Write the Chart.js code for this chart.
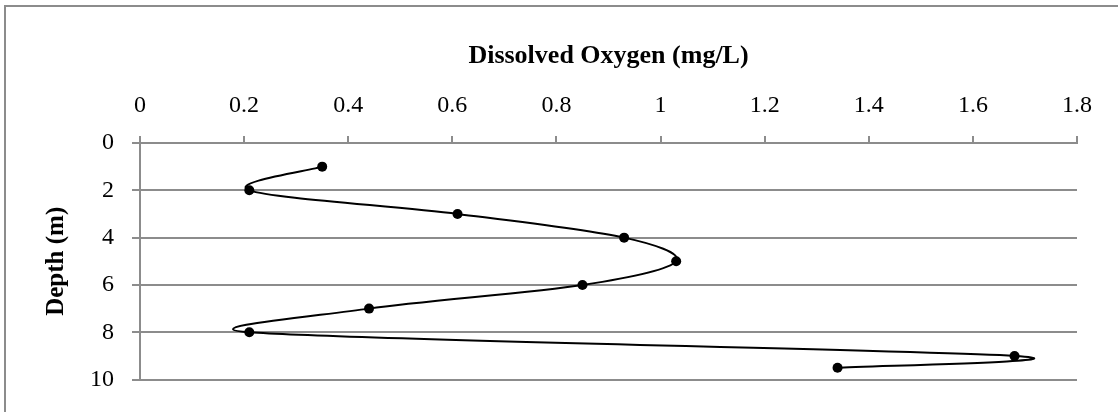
<!DOCTYPE html>
<html>
<head>
<meta charset="utf-8">
<title>Dissolved Oxygen profile</title>
<script src="https://cdn.jsdelivr.net/npm/chart.js@4/dist/chart.umd.min.js"></script>
<style>
  html, body { margin: 0; padding: 0; background: #fff; }
  #wrap { position: relative; width: 1118px; height: 412px; }
</style>
</head>
<body>
<div id="wrap"><canvas id="chart"></canvas></div>
<script>
'use strict'

// readings off the profile, depth in m, DO in mg/L
const depths = [1, 2, 3, 4, 5, 6, 7, 8, 9, 9.5]
const oxygen = [0.35, 0.21, 0.61, 0.93, 1.03, 0.85, 0.44, 0.21, 1.68, 1.34]

const xTicks = [0, 0.2, 0.4, 0.6, 0.8, 1, 1.2, 1.4, 1.6, 1.8]
const yTicks = [0, 2, 4, 6, 8, 10]

const SERIF = "'Times New Roman', 'Liberation Serif', serif"
const GRID = '#8c8c8c'


// the grey frame round the whole chart (right/bottom edges are cut off in the shot)
const framePlugin = {
  id: 'frame',
  beforeDraw (chart) {
    const ctx = chart.ctx
    ctx.save()
    ctx.fillStyle = '#fff'
    ctx.fillRect(0, 0, chart.width, chart.height)
    ctx.strokeStyle = GRID
    ctx.lineWidth = 2
    ctx.strokeRect(5, 6, chart.width + 20, chart.height + 20)
    ctx.restore()
  }
}


// spreadsheet-style smoothing: handle = |next - prev| / 6 along (next - prev),
// but never longer than half of the segment it sits on
const smoothPlugin = {
  id: 'smooth',
  beforeDatasetDraw (chart, args) {
    const line = args.meta.dataset
    if (!line || !line.updateControlPoints) return
    line.updateControlPoints(chart.chartArea, args.meta.iScale.axis)
    const pts = line.points
    const n = pts.length
    for (let i = 0; i < n; i++) {
      const p = pts[i]
      const prev = pts[i - 1] || p
      const next = pts[i + 1] || p
      const dx = next.x - prev.x
      const dy = next.y - prev.y
      const d = Math.hypot(dx, dy)
      if (!d) {
        p.cp1x = p.cp2x = p.x
        p.cp1y = p.cp2y = p.y
        continue
      }
      const ux = dx / d
      const uy = dy / d
      const segPrev = Math.hypot(p.x - prev.x, p.y - prev.y)
      const segNext = Math.hypot(next.x - p.x, next.y - p.y)
      const hIn = Math.min(d / 6, segPrev / 2)
      const hOut = Math.min(d / 6, segNext / 2)
      p.cp1x = p.x - ux * hIn
      p.cp1y = p.y - uy * hIn
      p.cp2x = p.x + ux * hOut
      p.cp2y = p.y + uy * hOut
    }
  }
}


function fixedTicks (list) {
  return function (scale) {
    scale.ticks = list.map(v => ({value: v}))
  }
}


function drawChart () {
  const points = depths.map((d, i) => ({x: oxygen[i], y: d}))

  let ctx = document.getElementById('chart').getContext('2d')
  let chart = new Chart(ctx, {
    type: 'scatter',
    data: {
      datasets: [{
        label: 'DO',
        data: points,
        showLine: true,
        tension: 0.4,
        borderColor: '#000',
        borderWidth: 2,
        backgroundColor: '#000',
        pointRadius: 5,
        pointHoverRadius: 5,
        pointBorderWidth: 0
      }]
    },
    options: {
      responsive: true,
      maintainAspectRatio: false,
      animation: false,
      devicePixelRatio: 1,
      layout: {
        padding: {left: 0, top: 0, right: 41, bottom: 29}
      },
      elements: {
        line: { capBezierPoints: false }
      },
      plugins: {
        legend: { display: false },
        tooltip: { enabled: false }
      },
      scales: {
        x: {
          type: 'linear',
          position: 'top',
          min: 0,
          max: 1.8,
          afterBuildTicks: fixedTicks(xTicks),
          afterFit: function (scale) { scale.height = 143 },
          border: { display: true, color: GRID, width: 2 },
          grid: {
            drawOnChartArea: false,
            drawTicks: true,
            tickLength: 7,
            color: GRID,
            lineWidth: 2
          },
          ticks: {
            padding: 16,
            color: '#000',
            maxRotation: 0,
            font: { family: SERIF, size: 24 },
            callback: v => String(v)
          },
          title: {
            display: true,
            text: 'Dissolved Oxygen (mg/L)',
            color: '#000',
            padding: {top: 41, bottom: 0},
            font: { family: SERIF, size: 26, weight: 'bold' }
          }
        },
        y: {
          type: 'linear',
          reverse: true,
          min: 0,
          max: 10,
          afterBuildTicks: fixedTicks(yTicks),
          afterFit: function (scale) { scale.width = 140 },
          border: { display: true, color: GRID, width: 2 },
          grid: {
            drawOnChartArea: true,
            drawTicks: true,
            tickLength: 8,
            color: GRID,
            lineWidth: 2
          },
          ticks: {
            padding: 18,
            color: '#000',
            font: { family: SERIF, size: 24 },
            callback: v => String(v)
          },
          title: {
            display: true,
            text: 'Depth (m)',
            color: '#000',
            padding: {top: 42, bottom: 0},
            font: { family: SERIF, size: 25, weight: 'bold' }
          }
        }
      }
    },
    plugins: [framePlugin, smoothPlugin]
  })
  return chart
}


drawChart()
</script>
</body>
</html>
